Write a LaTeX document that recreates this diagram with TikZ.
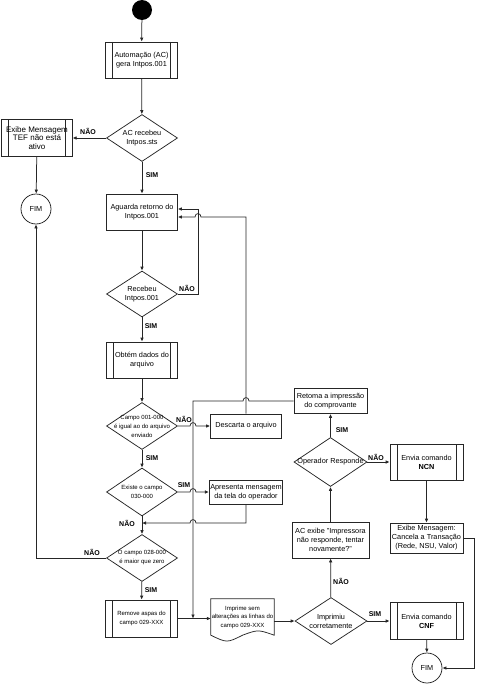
\documentclass[tikz,border=0pt]{standalone}
\usepackage{fontspec}
\setmainfont{Liberation Sans}
\usetikzlibrary{shapes.geometric, arrows.meta}
\tikzset{base/.style={draw=black!85, line width=0.75pt, align=center, inner sep=1pt,
        font=\fontsize{7.3}{9}\selectfont},
    proc/.style={base, rectangle, minimum width=72pt, minimum height=36pt},
    subproc/.style={proc, path picture={
        \draw[black!85, line width=0.75pt]
        ([xshift=7pt]path picture bounding box.north west) -- ([xshift=7pt]path picture bounding box.south west)
        ([xshift=-7pt]path picture bounding box.north east) -- ([xshift=-7pt]path picture bounding box.south east);}},
    decision/.style={base, diamond, minimum width=71pt, minimum height=47pt, inner sep=0pt},
    qtext/.style={align=center, inner sep=0pt, font=\fontsize{7.3}{9}\selectfont},
    qsmall/.style={align=center, inner sep=0pt, font=\fontsize{6}{9}\selectfont},
    terminal/.style={base, circle, minimum size=30pt, inner sep=0pt},
    lbl/.style={inner sep=0pt, font=\bfseries\fontsize{7}{8}\selectfont},
    flow/.style={draw=black!85, line width=0.75pt, -{Latex[length=4pt,width=3.6pt]}},
    line/.style={draw=black!85, line width=0.75pt}}

\begin{document}
\begin{tikzpicture}[x=1pt, y=-1pt]
    \useasboundingbox (0,0) rectangle (480,685);

    % main column
    \node[circle, fill=black, minimum size=20pt, inner sep=0pt] (start) at (142,10) {};
    \node[subproc] (auto) at (141.5,60) {Automação (AC)\\gera Intpos.001};
    \node[decision, label={[qtext]center:{AC recebeu\\Intpos.sts}}] (q1) at (142,138) {};
    \node[subproc, minimum width=70.5pt, minimum height=37pt, font=\fontsize{8}{8.7}\selectfont]
        (tef) at (37,138) {Exibe Mensagem\\TEF não está\\ativo};
    \node[terminal] (fimA) at (36,209) {FIM};
    \node[proc, minimum width=71pt] (wait) at (142,212) {Aguarda retorno do\\Intpos.001};
    \node[decision, minimum height=46pt, label={[qtext]center:{Recebeu\\Intpos.001}}] (q2) at (142,294) {};
    \node[subproc, minimum width=71pt] (get) at (142,360) {Obtém dados do\\arquivo};
    \node[decision, label={[qsmall]center:{Campo 001-000\\é igual ao do arquivo\\enviado}}] (q3) at (142,426) {};
    \node[proc, minimum width=71pt, minimum height=24pt] (drop) at (246,426) {Descarta o arquivo};
    \node[decision, minimum height=48pt, label={[qsmall]center:{Existe o campo\\030-000}}] (q4) at (142,492) {};
    \node[proc, minimum width=71pt, minimum height=24pt] (msg) at (246,492) {Apresenta mensagem\\da tela do operador};
    \node[decision, label={[qsmall]center:{O campo 028-000\\é maior que zero}}] (q5) at (142,558) {};
    \node[subproc, minimum height=37pt, font=\fontsize{6}{9}\selectfont] (strip) at (141.5,618.5) {Remove aspas do\\campo 029-XXX};
    \node[rectangle, minimum width=63pt, minimum height=36pt, inner sep=0pt, align=center,
        font=\fontsize{6}{8.5}\selectfont] (prt) at (242.5,617) {Imprime sem\\alterações as linhas do\\campo 029-XXX};
    \draw[line] (prt.north west) -- (prt.north east) -- (prt.south east)
        .. controls (258,629.5) .. (prt.south) .. controls (227,643) .. (prt.south west) -- cycle;

    % right column
    \node[decision, minimum width=72pt, label={[qtext]center:{Imprimiu\\corretamente}}] (q6) at (331,621) {};
    \node[subproc, minimum width=73pt, minimum height=37pt] (cnf) at (426.5,621) {Envia comando\\\textbf{CNF}};
    \node[terminal] (fimB) at (427,668) {FIM};
    \node[proc, minimum width=77pt] (warn) at (330.5,540) {AC exibe "Impressora\\não responde, tentar\\novamente?"};
    \node[decision, minimum width=73pt, minimum height=49pt, label={[qtext]center:{Operador Responde}}] (q7) at (330.5,462) {};
    \node[proc, minimum width=73pt, minimum height=25pt] (resume) at (330.5,401) {Retoma a impressão\\do comprovante};
    \node[subproc, minimum width=73pt] (ncn) at (426.5,462) {Envia comando\\\textbf{NCN}};
    \node[proc, minimum width=73pt, minimum height=30pt] (cancel) at (426.5,538) {Exibe Mensagem:\\Cancela a Transação\\(Rede, NSU, Valor)};

    % bends
    \coordinate (loopA) at (198,209);
    \coordinate (backA) at (246,217);
    \coordinate (backB) at (246,523);
    \coordinate (joinB) at (142,523);
    \coordinate (downA) at (193,401);
    \coordinate (sideA) at (474,538);

    % connectors
    \draw[flow] (start) -- (auto);
    \draw[flow] (auto) -- (q1);
    \draw[flow] (q1.west) -- (tef.east);
    \draw[flow] (tef) -- (fimA);
    \draw[flow] (q1) -- (wait);
    \draw[flow] (wait) -- (q2);
    \draw[flow] (q2.east) -| (loopA) -- ([yshift=3pt]wait.east);
    \draw[flow] (drop.north) -- (backA) -- (201,217) .. controls (201,212.5) and (195,212.5) .. (195,217)
        -- ([yshift=-5pt]wait.east);
    \draw[flow] (q2) -- (get);
    \draw[flow] (get) -- (q3);
    \draw[flow] (q3.east) -- (190,426) .. controls (190,421.5) and (196,421.5) .. (196,426) -- (drop.west);
    \draw[flow] (q3) -- (q4);
    \draw[flow] (q4.east) -- (190,492) .. controls (190,487.5) and (196,487.5) .. (196,492) -- (msg.west);
    \draw[flow] (msg.south) -- (backB) -- (196,523) .. controls (196,518.5) and (190,518.5) .. (190,523) -- (joinB);
    \draw[flow] (q4) -- (q5);
    \draw[flow] (q5.west) -| (fimA.south);
    \draw[flow] (q5) -- (strip);
    \draw[flow] (strip.east) -- (strip.east -| prt.west);
    \draw[flow] (resume.west) -- (249,401) .. controls (249,396.5) and (243,396.5) .. (243,401) -- (downA)
        -- (downA |- strip.east);
    \draw[flow] (prt.east |- q6.west) -- (q6.west);
    \draw[flow] (q6) -- (warn);
    \draw[flow] (q6) -- (cnf);
    \draw[flow] (cnf) -- (fimB);
    \draw[flow] (warn) -- (q7);
    \draw[flow] (q7) -- (resume);
    \draw[flow] (q7) -- (ncn);
    \draw[flow] (ncn) -- (cancel);
    \draw[flow] (cancel.east) -- (sideA) |- (fimB.east);

    % answers
    \node[lbl] (n1) at (88,131) {NÃO};
    \node[lbl] (s1) at (152,175) {SIM};
    \node[lbl] (n2) at (187,288) {NÃO};
    \node[lbl] (s2) at (151,326) {SIM};
    \node[lbl] (n3) at (184,419) {NÃO};
    \node[lbl] (s3) at (152,458) {SIM};
    \node[lbl] (s4) at (184,485) {SIM};
    \node[lbl] (n4) at (127,523) {NÃO};
    \node[lbl] (n5) at (92,552) {NÃO};
    \node[lbl] (s5) at (151,590) {SIM};
    \node[lbl] (n6) at (341,581) {NÃO};
    \node[lbl] (s6) at (375,614) {SIM};
    \node[lbl] (s7) at (342,430) {SIM};
    \node[lbl] (n7) at (376,457) {NÃO};
\end{tikzpicture}
\end{document}
